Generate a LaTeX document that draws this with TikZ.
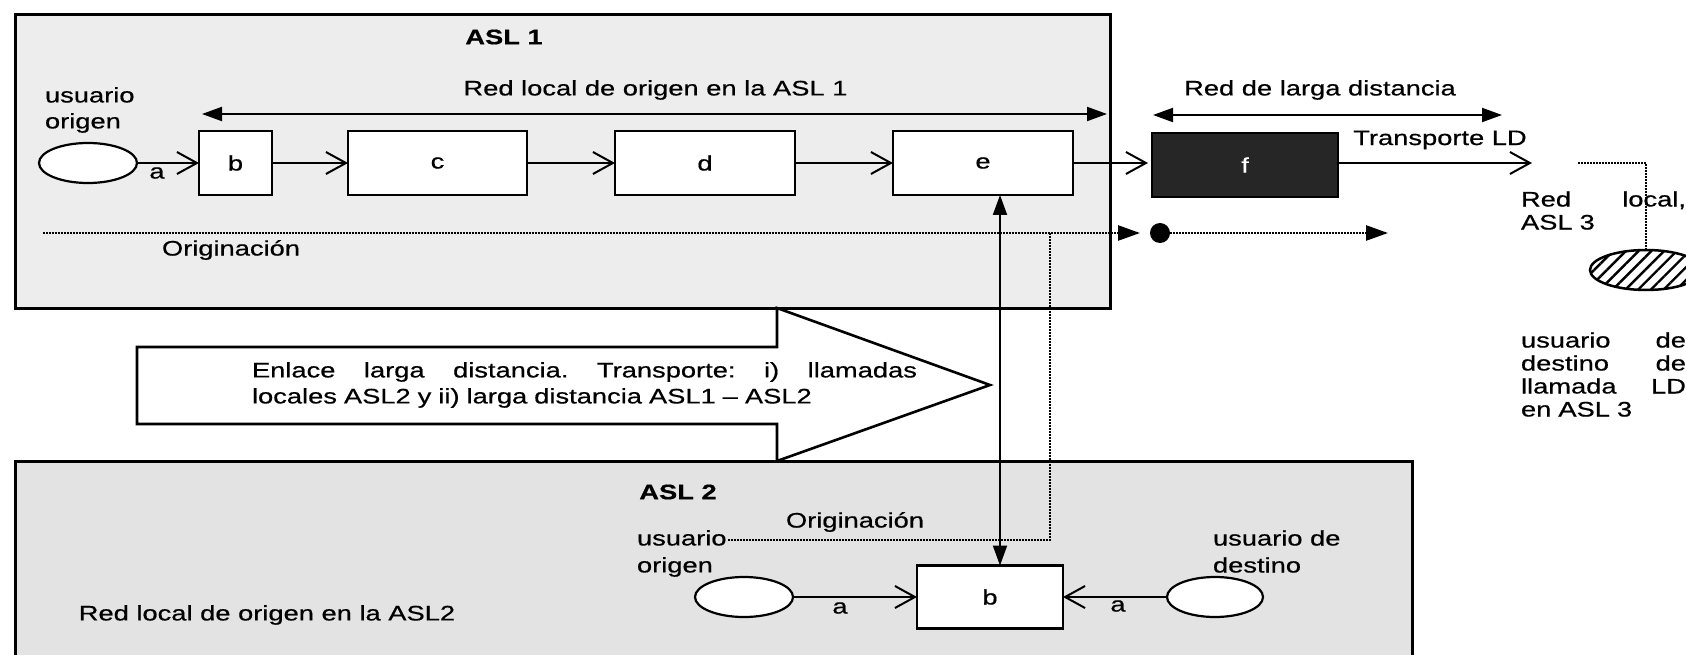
\documentclass[tikz,border=0pt]{standalone}
\usepackage{fontspec}
\setmainfont{Liberation Sans}[FakeStretch=1.3,FakeBold=0.6]
\usetikzlibrary{arrows.meta,shapes.geometric,patterns.meta}
\begin{document}
\begin{tikzpicture}[x=1pt,y=-1pt,
  every node/.style={font=\fontsize{21}{25}\selectfont, inner sep=0pt, outer sep=0pt},
  boldtxt/.style={font=\fontsize{21}{25}\selectfont\bfseries},
  area/.style={draw, line width=3pt},
  blk/.style={draw, line width=2.6pt, fill=white, minimum height=64pt},
  usr/.style={draw, ellipse, line width=2.2pt, fill=white, minimum width=98pt, minimum height=40pt},
  openar/.style={line width=2pt, -{Straight Barb[length=20pt,width=22pt,line width=2pt]}},
  fillhead/.style={-{Triangle[length=22pt,width=15pt]}},
  biar/.style={line width=2pt, {Triangle[length=20pt,width=14pt]}-{Triangle[length=20pt,width=14pt]}},
  dots/.style={line width=2.4pt, dash pattern=on 1.6pt off 1.4pt},
]
\useasboundingbox (0,0) rectangle (1686,655);
\fill[white] (0,0) rectangle (1686,655);

% areas
\node[area, fill=black!7, minimum width=1095pt, minimum height=293pt] (asl1) at (562.5,161.5) {};
\node[area, fill=black!11, minimum width=1397pt, minimum height=260pt] (asl2) at (713.5,591) {};

% block arrow
\draw[line width=2.6pt, fill=white, line join=miter]
  (137,347) -- (777,347) -- (777,308) -- (990,385) -- (777,461) -- (777,424) -- (137,424) -- cycle;
\node[anchor=west, text width=665pt, align=left, font=\fontsize{21}{26}\selectfont] (enl) at (252,385)
  {Enlace\hfill larga\hfill distancia.\hfill Transporte:\hfill i)\hfill llamadas\\locales ASL2 y ii) larga distancia ASL1 – ASL2};

% ASL 1 contents
\node[boldtxt] (asl1t) at (504,37) {ASL 1};
\node (rl1) at (655.5,90) {Red local de origen en la ASL 1};
\coordinate (rl1a) at (202,114);
\coordinate (rl1b) at (1107,114);
\draw[biar] (rl1a) -- (rl1b);

\node[anchor=west, align=left, font=\fontsize{21}{26}\selectfont] (uo1) at (45,110) {usuario\\origen};
\node[usr] (u1) at (88,163) {};
\node[blk, minimum width=73pt] (b1) at (235.5,163) {b};
\node[blk, minimum width=179pt] (c) at (437.5,163) {c};
\node[blk, minimum width=180pt] (d) at (705,163) {d};
\node[blk, minimum width=180pt] (e) at (983,163) {e};
\node[draw, line width=2.6pt, fill=black!85, text=white, minimum width=186pt, minimum height=64pt] (f) at (1245,165) {f};

\draw[openar] (u1) -- (b1);
\node (a1) at (157,173) {a};
\draw[openar] (b1) -- (c);
\draw[openar] (c) -- (d);
\draw[openar] (d) -- (e);
\draw[openar, shorten >=4pt] (e) -- (f.west |- e);

% long distance
\node (rld) at (1320,90) {Red de larga distancia};
\coordinate (rlda) at (1153,115);
\coordinate (rldb) at (1502,115);
\draw[biar] (rlda) -- (rldb);
\node (tld) at (1440,140) {Transporte LD};
\coordinate (ldend) at (1532,163);
\draw[openar] (f.east |- ldend) -- (ldend);

% ASL 3
\node[ellipse, draw, line width=2.5pt, pattern={Lines[angle=45,distance=9pt,line width=2.4pt]}, minimum width=112pt, minimum height=40pt] (h3) at (1646,270) {};
\coordinate (d3a) at (1578,163);
\draw[dots] (d3a) -| (h3.north);
\node[anchor=west, text width=165pt, align=left, font=\fontsize{21}{23}\selectfont] (rl3) at (1521,210.5) {Red\hfill local,\\ASL 3};
\node[anchor=west, text width=165pt, align=left, font=\fontsize{21}{23}\selectfont] (ud3) at (1521,374.5) {usuario\hfill de\\destino\hfill de\\llamada\hfill LD\\en ASL 3};

% Originacion ASL1
\coordinate (o1s) at (43,233);
\coordinate (o1e) at (1140,233);
\draw[dots, fillhead] (o1s) -- (o1e);
\node (or1) at (231,250) {Originación};
\node[circle, fill=black, minimum size=20pt] (dot) at (1160,233) {};
\coordinate (o2e) at (1388,233);
\draw[dots, fillhead] (dot) -- (o2e);

% ASL 2 contents
\node[boldtxt] (asl2t) at (678,492) {ASL 2};
\node (or2) at (855,522) {Originación};
\node[anchor=west, align=left, font=\fontsize{21}{27}\selectfont] (uo2) at (637,553.5) {usuario\\origen};
\node[usr] (u2) at (744,597) {};
\node[blk, minimum width=146pt, minimum height=63pt] (b2) at (990,597) {b};
\node[usr, minimum width=96pt] (u3) at (1215,597) {};
\node[anchor=west, align=left, font=\fontsize{21}{27}\selectfont] (ud2) at (1213,551.5) {usuario de\\destino};
\draw[openar] (u2) -- (b2);
\node (a2) at (840,608) {a};
\draw[openar] (u3) -- (b2);
\node (a3) at (1118,606) {a};
\node (rl2) at (267,615) {Red local de origen en la ASL2};

% vertical links
\coordinate (vx) at (1000,0);
\draw[biar] (e.south -| vx) -- (b2.north -| vx);
\coordinate (vd1) at (1050,233);
\coordinate (vd2) at (728,540);
\draw[dots, line width=2.8pt] (vd1) |- (vd2);
\end{tikzpicture}
\end{document}
